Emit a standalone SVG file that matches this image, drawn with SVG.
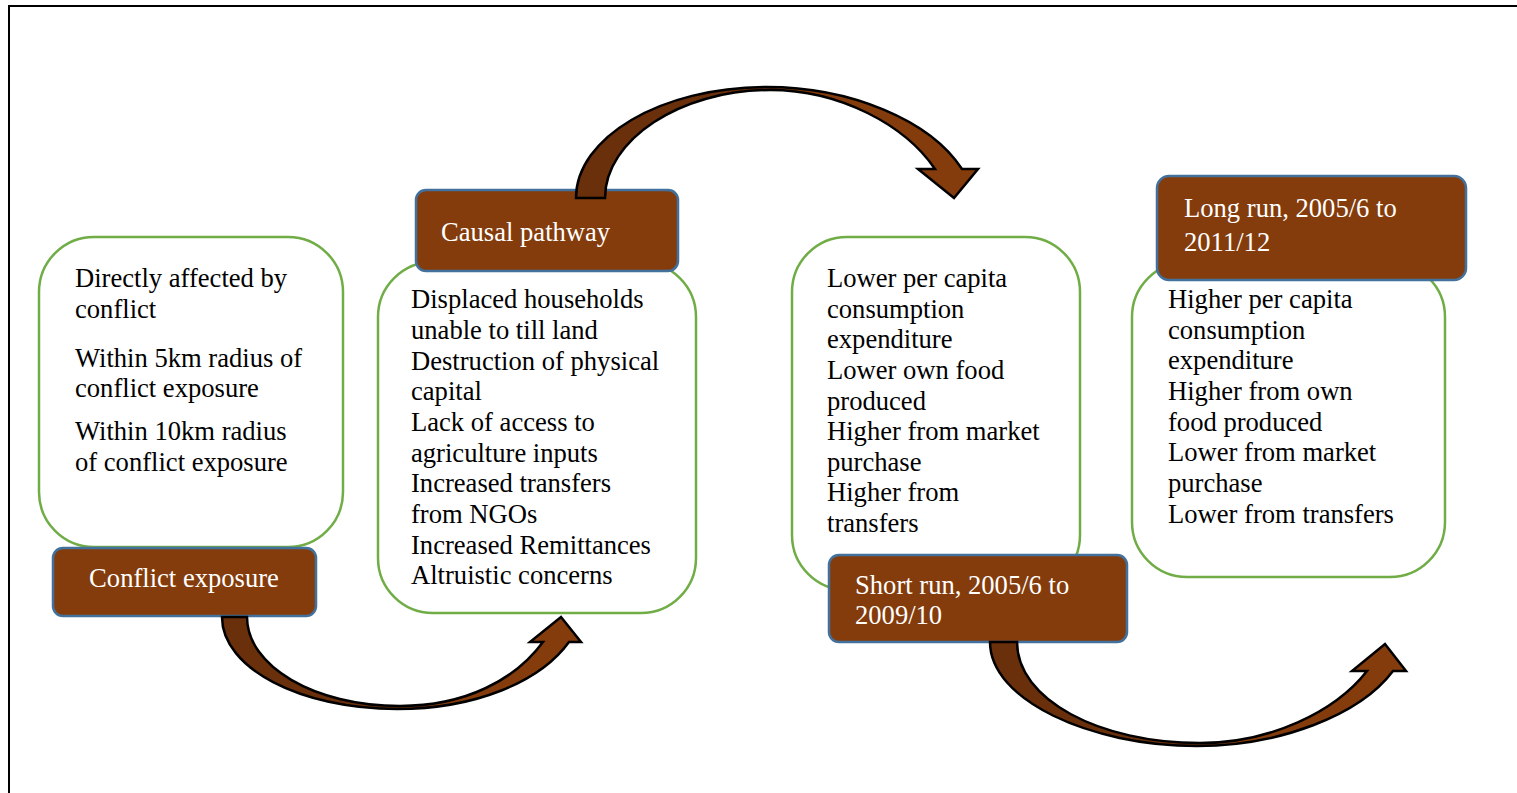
<svg xmlns="http://www.w3.org/2000/svg" width="1517" height="793" viewBox="0 0 1517 793">
<style>
.frame{fill:none;stroke:#000;stroke-width:2}
.card{fill:#fff;stroke:#70AD47;stroke-width:2.5}
.label{fill:#843C0C;stroke:#41719C;stroke-width:2.5}
.t{font-family:"Liberation Serif","Times New Roman",serif;font-size:26.6px;fill:#000}
.lt{font-family:"Liberation Serif","Times New Roman",serif;font-size:26.6px;fill:#fff}
.arrow{stroke:#000;stroke-width:2.5;stroke-linejoin:miter}
</style>
<defs>
<linearGradient id="gA" x1="0" y1="0" x2="1" y2="0">
<stop offset="0" stop-color="#6A2F0B"/><stop offset="0.5" stop-color="#6A2F0B"/><stop offset="0.5" stop-color="#843C0C"/><stop offset="1" stop-color="#843C0C"/>
</linearGradient>
</defs>
<rect width="1517" height="793" fill="#fff"/>
<path class="frame" d="M9,793 V6 H1517"/>

<g id="node-conflict">
<rect class="card" x="39" y="237" width="304" height="310" rx="55"/>
<text class="t" x="75" y="287">Directly affected by</text>
<text class="t" x="75" y="318">conflict</text>
<text class="t" x="75" y="367">Within 5km radius of</text>
<text class="t" x="75" y="397">conflict exposure</text>
<text class="t" x="75" y="440">Within 10km radius</text>
<text class="t" x="75" y="471">of conflict exposure</text>
<rect class="label" x="53" y="548" width="263" height="68" rx="10"/>
<text class="lt" x="184" y="587" text-anchor="middle">Conflict exposure</text>
</g>

<g id="node-causal">
<rect class="card" x="378" y="262" width="318" height="351" rx="55"/>
<text class="t" x="411" y="308">Displaced households</text>
<text class="t" x="411" y="339">unable to till land</text>
<text class="t" x="411" y="370">Destruction of physical</text>
<text class="t" x="411" y="400">capital</text>
<text class="t" x="411" y="431">Lack of access to</text>
<text class="t" x="411" y="462">agriculture inputs</text>
<text class="t" x="411" y="492">Increased transfers</text>
<text class="t" x="411" y="523">from NGOs</text>
<text class="t" x="411" y="554">Increased Remittances</text>
<text class="t" x="411" y="584">Altruistic concerns</text>
<rect class="label" x="416" y="190" width="262" height="81" rx="10"/>
<text class="lt" x="441" y="241">Causal pathway</text>
</g>

<g id="node-short">
<rect class="card" x="792" y="237" width="288" height="353" rx="55"/>
<text class="t" x="827" y="287">Lower per capita</text>
<text class="t" x="827" y="318">consumption</text>
<text class="t" x="827" y="348">expenditure</text>
<text class="t" x="827" y="379">Lower own food</text>
<text class="t" x="827" y="410">produced</text>
<text class="t" x="827" y="440">Higher from market</text>
<text class="t" x="827" y="471">purchase</text>
<text class="t" x="827" y="501">Higher from</text>
<text class="t" x="827" y="532">transfers</text>
<rect class="label" x="829" y="555" width="298" height="87" rx="10"/>
<text class="lt" x="855" y="594">Short run, 2005/6 to</text>
<text class="lt" x="855" y="624">2009/10</text>
</g>

<g id="node-long">
<rect class="card" x="1132" y="262" width="313" height="315" rx="55"/>
<text class="t" x="1168" y="308">Higher per capita</text>
<text class="t" x="1168" y="339">consumption</text>
<text class="t" x="1168" y="369">expenditure</text>
<text class="t" x="1168" y="400">Higher from own</text>
<text class="t" x="1168" y="431">food produced</text>
<text class="t" x="1168" y="461">Lower from market</text>
<text class="t" x="1168" y="492">purchase</text>
<text class="t" x="1168" y="523">Lower from transfers</text>
<rect class="label" x="1157" y="176" width="309" height="104" rx="12"/>
<text class="lt" x="1184" y="217">Long run, 2005/6 to</text>
<text class="lt" x="1184" y="251">2011/12</text>
</g>

<g id="connectors">
<path class="arrow" fill="url(#gA)" d="M222,617 C222,668 300,709 397,709 C475,709 540,682 569,642 L581,642 L561,617 L530,642 L543,642 C515,680 465,706 400,706 C314,706 247,666 247,617 Z"/>
<path class="arrow" fill="url(#gA)" d="M576,198 C576,138 660,87 767,87 C850,87 930,120 962,169 L978,169 L954,198 L918,169 L935,169 C905,125 840,90 770,90 C680,90 605,140 605,198 Z"/>
<path class="arrow" fill="url(#gA)" d="M990,642 C990,700 1090,746 1197,746 C1280,746 1360,715 1393,671 L1406,671 L1385,644 L1352,671 L1367,671 C1335,712 1270,743 1200,743 C1100,743 1017,700 1017,642 Z"/>
</g>
</svg>
